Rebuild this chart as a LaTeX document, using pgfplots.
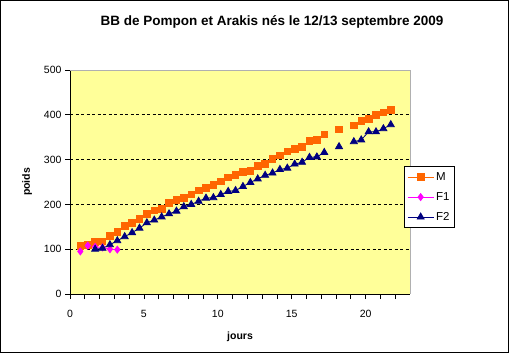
\documentclass[border=0pt]{standalone}
\usepackage{pgfplots}
\pgfplotsset{compat=1.18}
\usepackage{fontspec}
\setmainfont{Liberation Sans}
\definecolor{plotbg}{HTML}{FFFF99}
\definecolor{cM}{HTML}{FF6600}
\definecolor{cF1}{HTML}{FF00FF}
\definecolor{cF2}{HTML}{000080}
\definecolor{borderg}{HTML}{B0B0B0}
\begin{document}
\begin{tikzpicture}
\useasboundingbox (0,0) rectangle (509bp,353bp);
\draw[line width=1bp] (0.5bp,0.5bp) rectangle (508.5bp,352.5bp);
\node[font=\bfseries\fontsize{13.5bp}{15bp}\selectfont] at (272bp,331bp) {BB de Pompon et Arakis nés le 12/13 septembre 2009};
\begin{axis}[
  at={(70bp,59bp)}, anchor=south west,
  scale only axis, width=340bp, height=224bp,
  xmin=0, xmax=23, ymin=0, ymax=500,
  axis background/.style={fill=plotbg},
  axis x line*=bottom, axis y line*=left,
  axis line style={black, line width=0.8bp, -},
  xtick={0,5,10,15,20}, minor xtick={1,2,3,4,6,7,8,9,11,12,13,14,16,17,18,19,21,22},
  ytick={0,100,200,300,400,500},
  tick align=outside,
  major tick length=5bp, minor tick length=5bp,
  tick style={black, line width=0.8bp},
  /pgf/number format/assume math mode=true,
  ticklabel style={font=\fontsize{10.5bp}{12bp}\selectfont},
  xticklabel style={yshift=-8bp},
  extra y ticks={100,200,300,400},
  extra y tick labels={},
  extra y tick style={grid=major, major tick length=0pt},
  grid style={black, line width=0.8bp, dash pattern=on 3bp off 2.5bp},
  xlabel={jours}, ylabel={poids},
  label style={font=\bfseries\fontsize{10.5bp}{12bp}\selectfont},
  xlabel style={yshift=-7bp},
  unbounded coords=jump,
  legend style={at={(rel axis cs:0.982,0.571)}, anchor=north west,
    draw=black, line width=0.8bp, fill=white,
    font=\fontsize{11.5bp}{13bp}\selectfont, row sep=6.5bp, inner ysep=4bp, inner xsep=3bp},
  legend cell align=left,
  legend image code/.code={\draw[mark repeat=2,mark phase=2] plot coordinates {(0bp,0bp) (13bp,0bp) (26bp,0bp)};},
  clip=false,
  after end axis/.code={\draw[borderg, line width=0.8bp] (rel axis cs:0,1) -- (rel axis cs:1,1) -- (rel axis cs:1,0);}
]
\addplot[cM, line width=0.8bp, mark=square*, mark size=3.3bp, mark options={solid, fill=cM, draw=cM}] table {
x y
0.7 108
1.2 110
1.7 116
2.2 117
2.7 130
3.2 139
3.7 152
4.2 159
4.7 167
5.2 179
5.7 187
6.2 190
6.7 204
7.2 210
7.7 215
8.2 222
8.7 231
9.2 237
9.7 244
10.2 251
10.7 260
11.2 266
11.7 273
12.2 275
12.7 286
13.2 291
13.7 302
14.2 309
14.7 318
15.2 324
15.7 329
16.2 342
16.7 344
17.2 356
17.7 nan
18.2 367
18.7 nan
19.2 376
19.7 387
20.2 391
20.7 400
21.2 405
21.7 411
};
\addlegendentry{M}
\addplot[cF1, line width=0.8bp, mark=diamond*, mark size=3.5bp, mark options={solid, fill=cF1, draw=cF1}] table {
x y
0.7 95
1.2 108
1.7 105
2.2 104
2.7 100
3.2 99
};
\addlegendentry{F1}
\addplot[cF2, line width=0.8bp, mark=triangle*, mark size=4bp, mark options={solid, fill=cF2, draw=cF2}] table {
x y
1.7 100
2.2 102
2.7 110
3.2 119
3.7 128
4.2 137
4.7 147
5.2 159
5.7 165
6.2 172
6.7 179
7.2 185
7.7 195
8.2 200
8.7 207
9.2 214
9.7 215
10.2 222
10.7 229
11.2 231
11.7 240
12.2 249
12.7 257
13.2 265
13.7 270
14.2 278
14.7 281
15.2 290
15.7 294
16.2 305
16.7 306
17.2 316
17.7 nan
18.2 329
18.7 nan
19.2 340
19.7 344
20.2 362
20.7 362
21.2 369
21.7 378
};
\addlegendentry{F2}
\end{axis}
\end{tikzpicture}
\end{document}
